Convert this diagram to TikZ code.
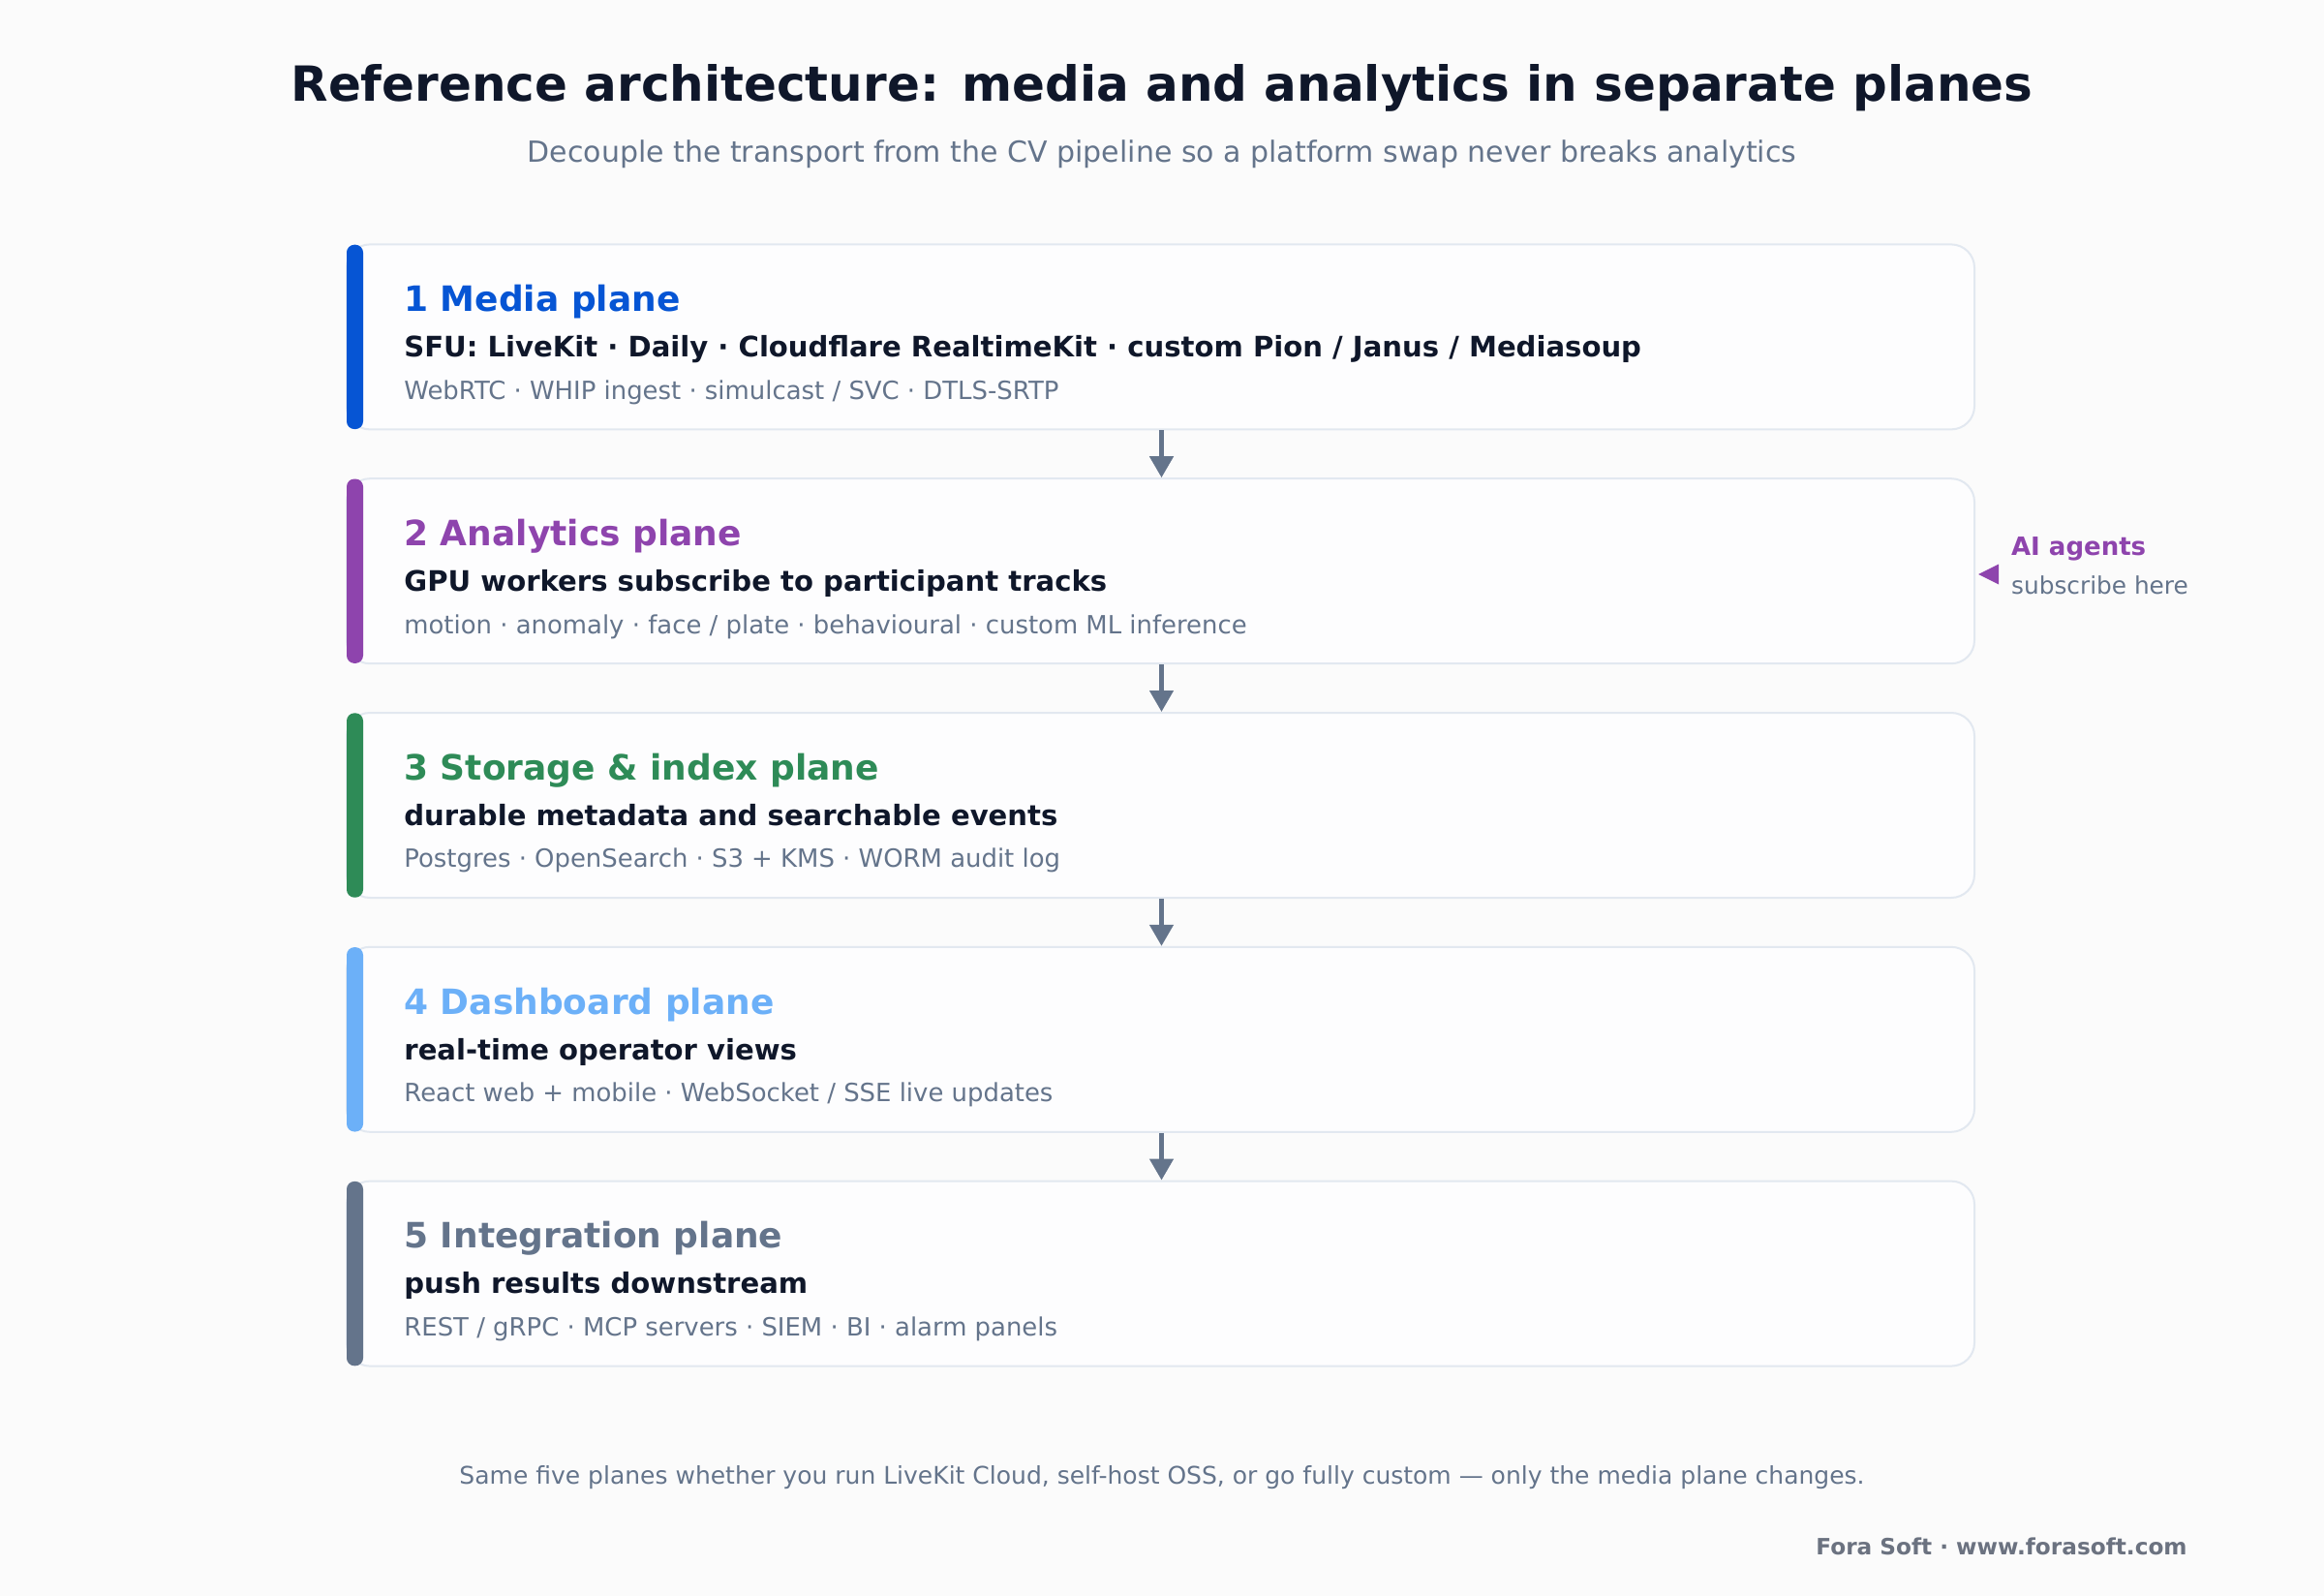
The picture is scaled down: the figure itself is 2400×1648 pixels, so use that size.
\documentclass[tikz,border=0pt]{standalone}
\usepackage{fontspec}
\setmainfont{DejaVu Sans}
\usetikzlibrary{arrows.meta}
\definecolor{bgc}{HTML}{FBFBFB}
\definecolor{boxfill}{HTML}{FDFDFE}
\definecolor{boxline}{HTML}{E2E8F0}
\definecolor{titlec}{HTML}{0F172A}
\definecolor{grayc}{HTML}{64748B}
\definecolor{c1}{HTML}{0655D4}
\definecolor{c2}{HTML}{8E44AD}
\definecolor{c3}{HTML}{2E8B57}
\definecolor{c4}{HTML}{6CB0F8}
\definecolor{c5}{HTML}{64748B}
\definecolor{foracol}{HTML}{6B7280}
\tikzset{
  plane/.style={draw=boxline, line width=1pt, fill=boxfill, rounded corners=12pt,
    minimum width=840.5pt, minimum height=95.5pt, inner sep=0pt},
  headtxt/.style={anchor=base west, inner sep=0pt, font=\fontsize{18}{21}\selectfont\bfseries},
  subtxt/.style={anchor=base west, inner sep=0pt, text=titlec, font=\fontsize{14.55}{17}\selectfont\bfseries},
  detailtxt/.style={anchor=base west, inner sep=0pt, text=grayc, font=\fontsize{12.95}{16}\selectfont},
  flow/.style={draw=grayc, line width=2.3pt, -{Triangle[length=11pt,width=12pt]}},
}
\begin{document}
\begin{tikzpicture}[x=0.5pt,y=-0.5pt]
\useasboundingbox[fill=bgc] (0,0) rectangle (2400,1648);
\node[anchor=base, inner sep=0pt, text=titlec, font=\fontsize{25}{29}\selectfont\bfseries] (title) at (1200,104.3) {Reference architecture: media and analytics in separate planes};
\node[anchor=base, inner sep=0pt, text=grayc, font=\fontsize{15}{18}\selectfont] (subtitle) at (1200,167.7) {Decouple the transport from the CV pipeline so a platform swap never breaks analytics};

\foreach \i/\top/\col/\head/\sub/\det in {
  1/252.7/c1/{1 Media plane}/{SFU: LiveKit · Daily · Cloudflare RealtimeKit · custom Pion / Janus / Mediasoup}/{WebRTC · WHIP ingest · simulcast / SVC · DTLS-SRTP},
  2/494.5/c2/{2 Analytics plane}/{GPU workers subscribe to participant tracks}/{motion · anomaly · face / plate · behavioural · custom ML inference},
  3/736.3/c3/{3 Storage \& index plane}/{durable metadata and searchable events}/{Postgres · OpenSearch · S3 + KMS · WORM audit log},
  4/978.1/c4/{4 Dashboard plane}/{real-time operator views}/{React web + mobile · WebSocket / SSE live updates},
  5/1219.9/c5/{5 Integration plane}/{push results downstream}/{REST / gRPC · MCP servers · SIEM · BI · alarm panels}}{
  \node[plane] (b\i) at (1198.5,\top+95.2) {};
  \fill[\col, rounded corners=4pt] (358,\top) rectangle (375,\top+190.4);
  \node[headtxt, text=\col] (h\i) at (417,\top+69) {\head};
  \node[subtxt] (s\i) at (417,\top+116) {\sub};
  \node[detailtxt] (d\i) at (417,\top+159.5) {\det};
}
\foreach \a/\b in {1/2,2/3,3/4,4/5}{
  \draw[flow] ([xshift=0.5pt]b\a.south) -- ([xshift=0.5pt]b\b.north);
}
\node[anchor=base west, inner sep=0pt, text=c2, font=\fontsize{13}{15}\selectfont\bfseries] (ai) at (2076.7,573.3) {AI agents};
\node[anchor=base west, inner sep=0pt, text=grayc, font=\fontsize{12.4}{14}\selectfont] (aisub) at (2076.7,613.3) {subscribe here};
\coordinate (aitip) at (2043,593);
\fill[c2] (aitip) -- (2064,582.5) -- (2064,603.5) -- cycle;

\node[anchor=base, inner sep=0pt, text=grayc, font=\fontsize{12.5}{15}\selectfont] (foot) at (1200,1532.3) {Same five planes whether you run LiveKit Cloud, self-host OSS, or go fully custom — only the media plane changes.};
\node[anchor=base east, inner sep=0pt, text=foracol, font=\fontsize{11.6}{14}\selectfont\bfseries] (fora) at (2259,1605) {Fora Soft · www.forasoft.com};
\end{tikzpicture}
\end{document}
